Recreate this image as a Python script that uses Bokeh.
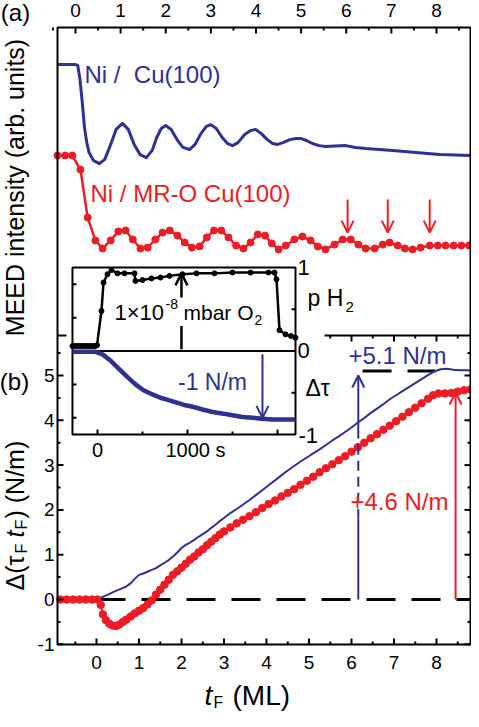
import math
from bokeh.plotting import figure
from bokeh.models import Range1d, Label, Arrow, OpenHead
from bokeh.embed import file_html
from bokeh.resources import INLINE

FONT = "Liberation Sans"
BLUE = "#2E3192"
RED = "#ED1C24"

# ---------------- panel (a): MEED intensity (arb. units) vs t_F (ML)
a_blue_ml = [-0.40, 0.00, 0.05, 0.10, 0.15, 0.20, 0.25, 0.30, 0.40, 0.53, 0.65, 0.78, 0.90, 1.04,
             1.17, 1.30, 1.43, 1.57, 1.70, 1.80, 1.90, 2.00, 2.12, 2.25, 2.38, 2.53, 2.65, 2.78,
             2.90, 3.00, 3.12, 3.25, 3.37, 3.48, 3.60, 3.75, 3.88, 3.99, 4.12, 4.25, 4.37, 4.48,
             4.60, 4.75, 4.88, 4.99, 5.12, 5.25, 5.40, 5.54, 5.75, 5.99, 6.20, 6.43, 7.03, 7.54,
             8.07, 8.76]
a_blue_int = [0.903, 0.903, 0.900, 0.853, 0.777, 0.693, 0.643, 0.610, 0.583, 0.573, 0.587, 0.637,
              0.687, 0.707, 0.687, 0.637, 0.603, 0.593, 0.617, 0.660, 0.690, 0.700, 0.687, 0.653,
              0.627, 0.620, 0.637, 0.673, 0.697, 0.703, 0.690, 0.660, 0.640, 0.633, 0.643, 0.670,
              0.683, 0.687, 0.673, 0.653, 0.640, 0.637, 0.643, 0.653, 0.657, 0.657, 0.650, 0.640,
              0.633, 0.630, 0.632, 0.633, 0.627, 0.623, 0.617, 0.610, 0.603, 0.600]

a_red_ml = [-0.40, -0.23, -0.07, 0.11, 0.27, 0.44, 0.60, 0.78, 0.95, 1.11, 1.27, 1.44, 1.60, 1.77,
            1.93, 2.09, 2.26, 2.42, 2.58, 2.75, 2.91, 3.07, 3.23, 3.39, 3.56, 3.72, 3.88, 4.04,
            4.20, 4.35, 4.50, 4.66, 4.85, 5.03, 5.21, 5.37, 5.54, 5.74, 5.92, 6.10, 6.27, 6.43,
            6.63, 6.81, 6.96, 7.14, 7.30, 7.47, 7.65, 7.85, 8.03, 8.20, 8.38, 8.55, 8.72]
a_red_int = [0.600, 0.600, 0.600, 0.553, 0.393, 0.317, 0.290, 0.317, 0.347, 0.350, 0.320, 0.290,
             0.293, 0.320, 0.343, 0.350, 0.333, 0.310, 0.293, 0.297, 0.327, 0.350, 0.350, 0.327,
             0.300, 0.290, 0.310, 0.337, 0.333, 0.307, 0.287, 0.300, 0.320, 0.330, 0.317, 0.297,
             0.287, 0.303, 0.320, 0.320, 0.303, 0.290, 0.290, 0.303, 0.310, 0.300, 0.290, 0.287,
             0.293, 0.300, 0.300, 0.300, 0.300, 0.300, 0.300]
a_arrow_ml = [6.03, 6.92, 7.85]
a_arrow_from, a_arrow_to = 0.453, 0.343

# ---------------- panel (b): Delta(tau_F t_F) (N/m) vs t_F (ML)
b_red_ml = [-0.85, -0.70, -0.55, -0.40, -0.25, -0.10, 0.02, 0.10, 0.15, 0.22, 0.30, 0.38, 0.46,
            0.54, 0.62, 0.70, 0.80, 0.90, 1.00, 1.10, 1.20, 1.30, 1.40, 1.50, 1.60, 1.70, 1.80,
            1.90, 2.00, 2.10, 2.20, 2.30, 2.40, 2.50, 2.60, 2.70, 2.80, 2.90, 3.00, 3.15, 3.30,
            3.45, 3.60, 3.75, 3.90, 4.05, 4.20, 4.35, 4.50, 4.65, 4.80, 4.95, 5.10, 5.25, 5.40,
            5.55, 5.70, 5.85, 6.00, 6.15, 6.30, 6.45, 6.60, 6.75, 6.90, 7.05, 7.20, 7.35, 7.50,
            7.65, 7.80, 7.92, 8.05, 8.20, 8.35, 8.50, 8.65, 8.80]
b_red_tau = [0, 0, 0, 0, 0, 0, 0, -0.12, -0.33, -0.46, -0.54, -0.58, -0.59, -0.56, -0.50, -0.45,
             -0.38, -0.31, -0.25, -0.19, -0.11, -0.02, 0.11, 0.22, 0.33, 0.44, 0.55, 0.63, 0.71,
             0.80, 0.89, 0.96, 1.05, 1.12, 1.21, 1.29, 1.37, 1.45, 1.52, 1.61, 1.70, 1.78, 1.86,
             1.95, 2.04, 2.13, 2.21, 2.30, 2.38, 2.46, 2.56, 2.65, 2.74, 2.84, 2.93, 3.02, 3.11,
             3.20, 3.30, 3.40, 3.50, 3.60, 3.69, 3.79, 3.88, 3.98, 4.08, 4.18, 4.28, 4.38, 4.48,
             4.56, 4.60, 4.60, 4.61, 4.64, 4.67, 4.69]

b_blue_ml = [-0.85, 0.00, 0.10, 0.20, 0.30, 0.40, 0.50, 0.60, 0.70, 0.80, 0.90, 1.00, 1.10, 1.20,
             1.30, 1.40, 1.50, 1.60, 1.70, 1.80, 1.90, 2.00, 2.10, 2.20, 2.30, 2.40, 2.50, 2.60,
             2.70, 2.80, 2.90, 3.00, 3.15, 3.30, 3.45, 3.60, 3.75, 3.90, 4.05, 4.20, 4.35, 4.50,
             4.65, 4.80, 4.95, 5.10, 5.25, 5.40, 5.55, 5.70, 5.85, 6.00, 6.15, 6.30, 6.45, 6.60,
             6.75, 6.90, 7.05, 7.20, 7.35, 7.50, 7.65, 7.80, 7.95, 8.10, 8.25, 8.40, 8.55, 8.70,
             8.80]
b_blue_tau = [0, 0.00, 0.04, 0.08, 0.12, 0.17, 0.21, 0.25, 0.29, 0.36, 0.46, 0.55, 0.58, 0.62,
              0.66, 0.70, 0.76, 0.82, 0.88, 0.96, 1.05, 1.15, 1.22, 1.27, 1.33, 1.40, 1.46, 1.52,
              1.60, 1.67, 1.75, 1.82, 1.93, 2.02, 2.12, 2.22, 2.33, 2.44, 2.55, 2.66, 2.77, 2.88,
              2.98, 3.08, 3.17, 3.26, 3.35, 3.45, 3.55, 3.64, 3.74, 3.84, 3.95, 4.05, 4.16, 4.26,
              4.36, 4.47, 4.56, 4.65, 4.74, 4.83, 4.92, 5.01, 5.09, 5.14, 5.15, 5.13, 5.12, 5.12,
              5.11]
b_blue_step_ml, b_blue_step = 6.16, 5.1      # +5.1 N/m marker
b_red_step_ml, b_red_step = 8.45, 4.62       # +4.6 N/m marker
b_level_ml = [6.26, 7.97]                    # dashed level at +5.1
b_zero_ml = [0.0, 8.8]

# ---------------- inset: p H2 (upper) and Delta tau (lower) vs time (s)
ins_p_t = [-278, -255, -232, -209, -186, -163, -140, -117, -94, -71, -48, -25, -5, 44, 67, 111,
           156, 222, 300, 411, 422, 500, 600, 700, 800, 944, 1100, 1300, 1500, 1700, 1900, 1967,
           1989, 2022, 2089, 2150, 2200]
ins_p_val = [0.06, 0.06, 0.06, 0.06, 0.06, 0.06, 0.06, 0.06, 0.06, 0.06, 0.06, 0.06, 0.07, 0.48,
             0.82, 0.92, 0.97, 0.93, 0.93, 0.93, 0.84, 0.85, 0.87, 0.88, 0.90, 0.92, 0.93, 0.93,
             0.94, 0.94, 0.94, 0.94, 0.86, 0.25, 0.20, 0.18, 0.16]
ins_tau_t = [-278, -200, -100, -22, 56, 150, 244, 330, 422, 511, 611, 700, 800, 890, 978, 1070,
             1167, 1278, 1400, 1500, 1611, 1722, 1833, 1944, 2050, 2200]
ins_tau_val = [-0.01, -0.01, -0.01, -0.01, -0.04, -0.12, -0.22, -0.31, -0.40, -0.47, -0.52,
               -0.56, -0.59, -0.62, -0.65, -0.67, -0.70, -0.73, -0.75, -0.77, -0.79, -0.80,
               -0.81, -0.82, -0.82, -0.82]
ins_t_extent = [-278, 2200]
ins_y_extent = [-1.0, 1.0]
ins_x_ticks = [0, 1000, 2000]
ins_x_minor = [500, 1500]
ins_left_ticks = [0.8, 0.4, -0.4, -0.8]
ins_right_ticks = [0.5, -0.5]
ins_o2_t = 933
ins_tau_arrow_t = 1833

# ticks
ml_ticks = list(range(0, 9))
ml_minor = [x + 0.5 for x in range(-1, 9)]
tau_ticks = list(range(-1, 6))
tau_minor = [y + 0.5 for y in range(-1, 6)]

# ---------------- figure: the frame fills the whole canvas; axes are drawn on it
p = figure(width=471, height=714, output_backend="svg", toolbar_location=None,
           x_range=Range1d(-2.259, 8.824), y_range=Range1d(-2.567, 13.371),
           min_border=0, x_axis_location=None, y_axis_location=None)
p.grid.visible = False
p.outline_line_color = None
p.extra_x_ranges = {"a": Range1d(-1.662, 8.776), "px": Range1d(8, 479),
                    "it": Range1d(-1077.8, 4155.6)}
p.extra_y_ranges = {"ya": Range1d(-1.2633, 1.1167), "py": Range1d(722, 8),
                    "iy": Range1d(-4.353, 4.198)}

FR_L, FR_R, FR_T, FR_B = 65, 478, 35, 652      # page pixels of the main frame
YB_TOP = 5.893                                  # panel (b) top edge, N/m


def lab(text, x, y, size, color="black", align="left", angle=0.0, style="normal",
        xr="px", yr="py", baseline="middle"):
    p.add_layout(Label(x=x, y=y, text=text, x_range_name=xr, y_range_name=yr,
                       text_font=FONT, text_font_size=f"{size}px", text_color=color,
                       text_align=align, text_baseline=baseline, angle=angle,
                       text_font_style=style))


def arrow(x, y0, y1, color, xr="default", yr="default", size=11, lw=2):
    p.add_layout(Arrow(x_start=x, y_start=y0, x_end=x, y_end=y1, x_range_name=xr,
                       y_range_name=yr, line_color=color, line_width=lw,
                       end=OpenHead(size=size, line_color=color, line_width=lw)))


def ticks_x(vals, xr, y0, y1):
    p.segment(x0=vals, x1=vals, y0=[y0] * len(vals), y1=[y1] * len(vals), x_range_name=xr,
              y_range_name="py", line_color="black", line_width=2)


def ticks_y(vals, yr, x0, x1):
    p.segment(x0=[x0] * len(vals), x1=[x1] * len(vals), y0=vals, y1=vals, x_range_name="px",
              y_range_name=yr, line_color="black", line_width=2)


# ---- panel (a) curves
p.line(a_blue_ml, a_blue_int, x_range_name="a", y_range_name="ya", line_color=BLUE,
       line_width=3, line_join="round")
p.line(a_red_ml, a_red_int, x_range_name="a", y_range_name="ya", line_color=RED,
       line_width=2.5, line_join="round")
p.scatter(a_red_ml, a_red_int, x_range_name="a", y_range_name="ya", marker="circle", size=7,
          fill_color=RED, line_color=RED)

# ---- panel (b) curves
p.line(b_zero_ml, [0, 0], line_color="black", line_width=3, line_dash="29 16")
p.line(b_level_ml, [b_blue_step, b_blue_step], line_color="black", line_width=3,
       line_dash="29 16")
p.line(b_blue_ml, b_blue_tau, line_color=BLUE, line_width=2, line_join="round")
p.line(b_red_ml, b_red_tau, line_color=RED, line_width=2)
p.scatter(b_red_ml, b_red_tau, marker="circle", size=7.5, fill_color=RED, line_color=RED)

# vertical step markers in (b)
p.segment(x0=[b_blue_step_ml], x1=[b_blue_step_ml], y0=[0], y1=[1.8], line_color=BLUE,
          line_width=2)
p.segment(x0=[b_blue_step_ml], x1=[b_blue_step_ml], y0=[1.8], y1=[3.6], line_color=BLUE,
          line_width=2, line_dash="10 6")

# ---- frame and axes
p.quad(left=[FR_L], right=[FR_R], top=[FR_T], bottom=[FR_B], x_range_name="px",
       y_range_name="py", fill_color=None, line_color="black", line_width=2)
# top axis (panel a)
ticks_x(ml_ticks, "a", FR_T, FR_T + 6)
ticks_x(ml_minor, "a", FR_T, FR_T + 3)
# bottom axis (panel b)
ticks_x(ml_ticks, "default", FR_B, FR_B - 6)
ticks_x(ml_minor, "default", FR_B, FR_B - 3)
# left and right axes (panel b)
ticks_y(tau_ticks, "default", FR_L, FR_L + 6)
ticks_y(tau_minor, "default", FR_L, FR_L + 3)
ticks_y(tau_ticks, "default", FR_R, FR_R - 6)
ticks_y(tau_minor, "default", FR_R, FR_R - 3)
# panel (b) top edge
p.segment(x0=[-0.918], x1=[8.8], y0=[YB_TOP], y1=[YB_TOP], line_color="black", line_width=2)
p.segment(x0=ml_ticks, x1=ml_ticks, y0=[YB_TOP] * len(ml_ticks),
          y1=[YB_TOP - 6 / 44.8] * len(ml_ticks), line_color="black", line_width=2)
p.segment(x0=ml_minor, x1=ml_minor, y0=[YB_TOP] * len(ml_minor),
          y1=[YB_TOP - 3 / 44.8] * len(ml_minor), line_color="black", line_width=2)

for t in ml_ticks:
    lab(str(t), t, 18, 19, align="center", xr="a")
    lab(str(t), t, 670, 19, align="center", xr="default")
for t in tau_ticks:
    lab(str(t), 62, t, 19, align="right", yr="default")

# ---- inset background (white) and frame
p.quad(left=[74], right=[332], bottom=[452], top=[268], x_range_name="px", y_range_name="py",
       fill_color="white", line_color=None)
p.quad(left=[ins_t_extent[0]], right=[ins_t_extent[1]], bottom=[ins_y_extent[0]],
       top=[ins_y_extent[1]], x_range_name="it", y_range_name="iy", fill_color=None,
       line_color="black", line_width=2)
p.segment(x0=[ins_t_extent[0]], x1=[ins_t_extent[1]], y0=[0], y1=[0], x_range_name="it",
          y_range_name="iy", line_color="black", line_width=2)
p.segment(x0=ins_x_ticks, x1=ins_x_ticks, y0=[-1] * 3, y1=[-1 + 5 / 83.5] * 3,
          x_range_name="it", y_range_name="iy", line_color="black", line_width=2)
p.segment(x0=ins_x_minor, x1=ins_x_minor, y0=[-1] * 2, y1=[-1 + 3 / 83.5] * 2,
          x_range_name="it", y_range_name="iy", line_color="black", line_width=2)
p.segment(x0=[ins_t_extent[0]] * 4, x1=[ins_t_extent[0] + 4 / 0.09] * 4, y0=ins_left_ticks,
          y1=ins_left_ticks, x_range_name="it", y_range_name="iy", line_color="black",
          line_width=2)
p.segment(x0=[ins_t_extent[1]] * 2, x1=[ins_t_extent[1] - 4 / 0.09] * 2, y0=ins_right_ticks,
          y1=ins_right_ticks, x_range_name="it", y_range_name="iy", line_color="black",
          line_width=2)

p.line(ins_p_t, ins_p_val, x_range_name="it", y_range_name="iy", line_color="black",
       line_width=2.5)
p.scatter(ins_p_t, ins_p_val, x_range_name="it", y_range_name="iy", marker="circle", size=5,
          fill_color="black", line_color="black")
p.line(ins_tau_t, ins_tau_val, x_range_name="it", y_range_name="iy", line_color=BLUE,
       line_width=4.5)
p.segment(x0=[ins_o2_t], x1=[ins_o2_t], y0=[0.02], y1=[0.3], x_range_name="it",
          y_range_name="iy", line_color="black", line_width=2.5)

# ---- arrows
for xm in a_arrow_ml:
    arrow(xm, a_arrow_from, a_arrow_to, RED, "a", "ya", size=12)
arrow(b_blue_step_ml, 3.6, 5.0, BLUE, size=12)
arrow(b_red_step_ml, 0.0, b_red_step, RED, size=12)
arrow(ins_o2_t, 0.64, 0.93, "black", "it", "iy", size=12, lw=2.5)
arrow(ins_tau_arrow_t, -0.04, -0.8, BLUE, "it", "iy", size=12)

# ---- panel labels and axis titles
R = math.pi / 2
lab("(a)", 23, 20, 24, align="center")
lab("(b)", 22, 389, 24, align="center")
lab("MEED intensity (arb. units)", 22, 195, 25, align="center", angle=R)
lab("\u0394(\u03c4", 22, 598, 25, angle=R)
lab("F", 29, 561, 16, angle=R)
lab("t", 22, 545, 25, angle=R, style="italic")
lab("F", 29, 537, 16, angle=R)
lab(") (N/m)", 22, 526, 25, angle=R)
lab("t", 212, 703, 28, style="italic")
lab("F", 221, 710, 16)
lab("(ML)", 240, 703, 28)

# curve labels
lab("Ni / \u00a0Cu(100)", 92, 82, 24, color=BLUE)
lab("Ni / MR-O Cu(100)", 98, 201, 24, color=RED)
lab("+5.1 N/m", 405, 363, 24, color=BLUE, align="center")
lab("+4.6 N/m", 407, 509, 24, color=RED, align="center")

# inset texts
lab("1\u00d710", 122, 320, 22)
lab("-8", 173, 311, 14)
lab("mbar O", 191, 320, 21)
lab("2", 262, 327, 14)
lab("1", 305, 275, 22)
lab("0", 305, 358, 22)
lab("-1", 306, 443, 22)
lab("p H", 315, 305, 23)
lab("2", 353, 314, 15)
lab("\u0394\u03c4", 313, 395, 23)
lab("0", 105, 457, 20, align="center")
lab("1000 s", 173, 457, 20)
lab("-1 N/m", 220, 389, 23, color=BLUE, align="center")

open("out.html", "w").write(file_html(p, INLINE))
